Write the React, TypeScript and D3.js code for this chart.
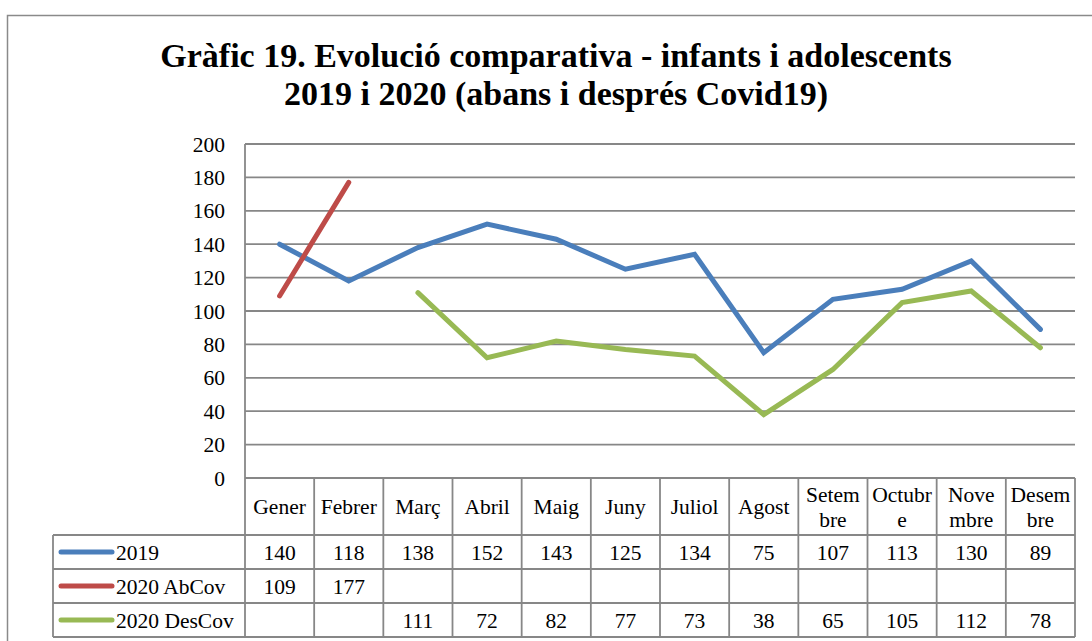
import React from "react";
import * as d3 from "d3";

const categories = ["Gener", "Febrer", "Març", "Abril", "Maig", "Juny", "Juliol", "Agost", "Setembre", "Octubre", "Novembre", "Desembre"];
const categoryLines: string[][] = [["Gener"], ["Febrer"], ["Març"], ["Abril"], ["Maig"], ["Juny"], ["Juliol"], ["Agost"], ["Setem", "bre"], ["Octubr", "e"], ["Nove", "mbre"], ["Desem", "bre"]];
const s2019: (number | null)[] = [140, 118, 138, 152, 143, 125, 134, 75, 107, 113, 130, 89];
const sAbCov: (number | null)[] = [109, 177, null, null, null, null, null, null, null, null, null, null];
const sDesCov: (number | null)[] = [null, null, 111, 72, 82, 77, 73, 38, 65, 105, 112, 78];
const yTicks = [0, 20, 40, 60, 80, 100, 120, 140, 160, 180, 200];
const titleLines = ["Gràfic 19. Evolució comparativa - infants i adolescents", "2019 i 2020 (abans i després Covid19)"];

const series = [
  { name: "2019", values: s2019, color: "#4A7EBB" },
  { name: "2020 AbCov", values: sAbCov, color: "#BE4B48" },
  { name: "2020 DesCov", values: sDesCov, color: "#98B954" },
];

const FONT = "'Liberation Serif', 'Times New Roman', serif";
const GRID = "#878787";
const FS = 21.5;

export default function App() {
  const W = 1092, H = 641;
  const left = 245, right = 1075, top = 144, bottom = 478;
  const x = d3.scaleBand<string>().domain(categories).range([left, right]).padding(0);
  const y = d3.scaleLinear().domain([0, 200]).range([bottom, top]);
  const bw = x.bandwidth();
  const cx = (c: string) => (x(c) as number) + bw / 2;

  const line = d3
    .line<number | null>()
    .defined((d) => d != null)
    .x((_, i) => cx(categories[i]))
    .y((d) => y(d as number));

  const headerTop = bottom, headerBot = 535;
  const rowTops = [535, 569, 603];
  const rowH = 34;
  const tableBot = 637;
  const legLeft = 53;

  return (
    <svg width={W} height={H} style={{ position: "absolute", left: 0, top: 0, display: "block" }} fontFamily={FONT}>
      <rect x={0} y={0} width={W} height={H} fill="#fff" />
      {/* outer frame */}
      <rect x={7.5} y={15.5} width={W + 20} height={H + 20} fill="none" stroke="#8a8a8a" strokeWidth={1.5} />
      {/* title */}
      {titleLines.map((t, i) => (
        <text key={i} x={556} y={67 + i * 38} textAnchor="middle" fontWeight="bold" fontSize={34} fill="#000">
          {t}
        </text>
      ))}
      {/* gridlines */}
      {yTicks.map((t) => (
        <line key={t} x1={left} x2={right} y1={y(t)} y2={y(t)} stroke={GRID} strokeWidth={1.8} />
      ))}
      {/* y labels */}
      {yTicks.map((t) => (
        <text key={"l" + t} x={225} y={y(t)} dy="0.35em" textAnchor="end" fontSize={FS} fill="#000">
          {t}
        </text>
      ))}
      {/* left axis line */}
      <line x1={left} x2={left} y1={top} y2={tableBot} stroke={GRID} strokeWidth={1.8} />
      {/* table horizontal lines */}
      {[headerBot, ...rowTops.slice(1), tableBot].map((yy, i) => (
        <line key={"h" + i} x1={legLeft} x2={right} y1={yy} y2={yy} stroke={GRID} strokeWidth={1.8} />
      ))}
      <line x1={legLeft} x2={legLeft} y1={headerBot} y2={tableBot} stroke={GRID} strokeWidth={1.8} />
      {categories.map((c, i) => (
        <line key={"v" + i} x1={(x(c) as number) + bw} x2={(x(c) as number) + bw} y1={headerTop} y2={tableBot} stroke={GRID} strokeWidth={1.8} />
      ))}
      {/* header labels */}
      {categories.map((c, i) => {
        const ls = categoryLines[i];
        const mid = (headerTop + headerBot) / 2;
        return ls.map((l, j) => (
          <text key={c + j} x={cx(c)} y={mid + (j - (ls.length - 1) / 2) * 25} dy="0.35em" textAnchor="middle" fontSize={FS} fill="#000">
            {l}
          </text>
        ));
      })}
      {/* rows */}
      {series.map((s, r) => (
        <g key={s.name}>
          <line x1={61} x2={112} y1={rowTops[r] + rowH / 2} y2={rowTops[r] + rowH / 2} stroke={s.color} strokeWidth={5} strokeLinecap="round" />
          <text x={116} y={rowTops[r] + rowH / 2} dy="0.35em" fontSize={FS} fill="#000">
            {s.name}
          </text>
          {s.values.map((v, i) =>
            v == null ? null : (
              <text key={i} x={cx(categories[i])} y={rowTops[r] + rowH / 2} dy="0.35em" textAnchor="middle" fontSize={FS} fill="#000">
                {v}
              </text>
            )
          )}
        </g>
      ))}
      {/* lines */}
      {series.map((s) => (
        <path key={"p" + s.name} d={line(s.values) || ""} fill="none" stroke={s.color} strokeWidth={5} strokeLinecap="round" strokeLinejoin="miter" />
      ))}
    </svg>
  );
}
